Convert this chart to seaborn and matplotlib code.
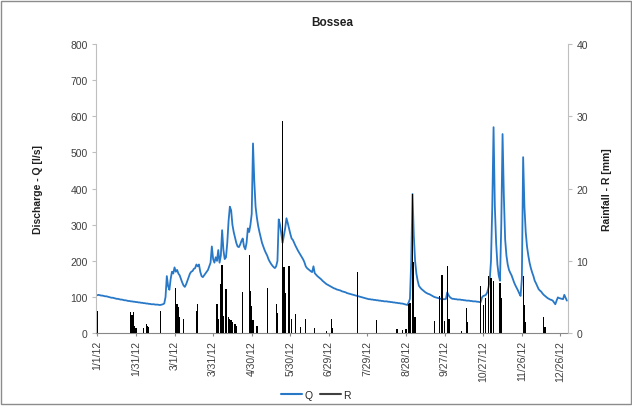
import numpy as np
import pandas as pd
import matplotlib
matplotlib.use("Agg")
import matplotlib.pyplot as plt
import seaborn as sns
from matplotlib.patches import Rectangle
from matplotlib.lines import Line2D

sns.set_style("white")
plt.rcParams['font.family'] = ['Liberation Sans', 'DejaVu Sans']

# ---- Discharge Q [l/s], daily values for 2012, by month ----
q_jan = [105, 106, 105, 104, 104, 103, 102, 102, 101, 100, 99, 98, 98, 97, 96, 95, 95, 94, 93, 93,
         92, 91, 91, 90, 89, 89, 88, 88, 87, 87, 86]
q_feb = [86, 85, 85, 84, 84, 83, 83, 82, 82, 81, 81, 80, 80, 80, 79, 79, 79, 78, 78, 79, 80,
         82, 100, 158, 130, 120, 150, 170, 165]
q_mar = [182, 170, 175, 165, 160, 150, 140, 132, 128, 135, 145, 155, 165, 170, 172, 178, 180, 190, 185, 190,
         170, 158, 155, 160, 165, 170, 175, 185, 195, 240, 205]
q_apr = [195, 210, 200, 230, 195, 215, 285, 230, 205, 210, 250, 310, 350, 340, 300, 280, 265, 250, 240, 238,
         245, 255, 262, 240, 232, 250, 290, 280, 300, 330]
q_may = [525, 420, 350, 320, 297, 280, 265, 250, 240, 230, 222, 215, 205, 198, 192, 187, 183, 180, 185, 200,
         315, 300, 275, 250, 270, 290, 318, 305, 290, 275, 262]
q_jun = [258, 250, 242, 235, 228, 222, 216, 210, 204, 196, 185, 180, 177, 174, 171, 169, 185, 166, 162, 158,
         155, 152, 149, 145, 142, 139, 136, 134, 132, 130]
q_jul = [128, 126, 124, 123, 121, 120, 119, 118, 116, 115, 114, 113, 111, 110, 109, 108, 107, 106, 105, 104,
         103, 102, 101, 100, 99, 98, 97, 96, 95, 94, 94]
q_aug = [93, 93, 92, 92, 91, 91, 90, 90, 89, 89, 88, 88, 88, 87, 87, 86, 86, 85, 85, 84,
         84, 83, 83, 82, 82, 81, 80, 79, 78, 85, 95]
q_sep = [200, 385, 270, 200, 165, 145, 131, 126, 122, 119, 116, 113, 111, 109, 108, 106, 104, 102, 100, 99,
         98, 97, 96, 95, 95, 94, 94, 95, 113, 105]
q_oct = [100, 97, 95, 95, 94, 94, 93, 93, 93, 92, 92, 91, 91, 90, 90, 90, 89, 89, 88, 88,
         88, 87, 87, 86, 86, 99, 103, 104, 106, 112, 125]
q_nov = [145, 200, 350, 570, 350, 250, 190, 160, 145, 300, 551, 380, 260, 215, 190, 175, 167, 160, 150, 140,
         132, 125, 118, 110, 103, 150, 487, 350, 280, 240]
q_dec = [215, 195, 180, 168, 158, 145, 138, 130, 122, 118, 115, 110, 106, 103, 100, 97, 95, 93, 92, 90,
         85, 80, 90, 99, 97, 96, 95, 94, 106, 98, 90]

# ---- Rainfall R [mm]: days (0 = 1 Jan 2012) with rain, and amounts ----
r_days = [0, 26, 27, 28, 29, 30, 36, 38, 39, 40, 49, 61, 62, 63, 64, 67, 77, 78, 93, 94,
          96, 97, 98, 100, 102, 103, 104, 105, 107, 108, 113, 118, 119, 120, 121, 124, 132, 139, 140, 144,
          145, 146, 149, 151, 154, 158, 162, 169, 178, 182, 183, 202, 217, 233, 237, 240, 242, 243, 245, 246,
          247, 262, 266, 268, 270, 272, 273, 274, 283, 287, 288, 298, 300, 302, 304, 306, 308, 313, 314, 331,
          332, 333, 347, 348]
r_vals = [3.1, 2.9, 2.5, 2.9, 1.0, 0.7, 0.7, 1.2, 1.0, 0.8, 3.0, 6.3, 4.1, 3.6, 2.3, 2.0, 3.0, 4.1, 4.0, 2.0,
          6.8, 9.5, 2.4, 6.1, 2.2, 2.0, 1.8, 1.5, 1.2, 1.0, 5.7, 10.8, 5.8, 3.8, 1.8, 1.0, 6.2, 4.1, 2.8, 29.4,
          9.2, 5.5, 9.3, 2.0, 2.7, 0.9, 2.0, 0.7, 0.3, 1.9, 0.7, 8.4, 1.8, 0.6, 0.4, 0.6, 4.0, 4.2, 19.2, 9.8,
          2.3, 1.7, 5.1, 8.1, 1.7, 9.3, 2.0, 2.0, 0.3, 3.5, 1.6, 6.5, 3.9, 4.8, 7.9, 7.6, 7.2, 6.9, 4.8, 7.9,
          3.9, 1.6, 2.2, 0.9]

tick_days = [0, 30, 60, 90, 120, 150, 180, 210, 240, 270, 300, 330, 360]
tick_labels = ["1/1/12", "1/31/12", "3/1/12", "3/31/12", "4/30/12", "5/30/12", "6/29/12",
               "7/29/12", "8/28/12", "9/27/12", "10/27/12", "11/26/12", "12/26/12"]

q = q_jan + q_feb + q_mar + q_apr + q_may + q_jun + q_jul + q_aug + q_sep + q_oct + q_nov + q_dec
days = np.arange(len(q))
rain = np.zeros(len(q))
rain[r_days] = r_vals
dfq = pd.DataFrame({"day": days, "Q": q})
dfr = pd.DataFrame({"day": days, "R": rain})

BLUE = "#2878C8"
GRAY_AX = "#BFBFBF"
TXT = "#404040"

fig = plt.figure(figsize=(6.32, 4.10), dpi=100)
fig.patches.append(Rectangle((0.002, 0.012), 0.996, 0.982, transform=fig.transFigure,
                             fill=False, edgecolor="#8C8C8C", linewidth=1.0))
ax = fig.add_axes([0.152, 0.185, 0.747, 0.705])

sns.lineplot(data=dfq, x="day", y="Q", ax=ax, color=BLUE, linewidth=1.3, legend=False)
ax.set_xlim(-1, 366)
ax.set_ylim(0, 800)
ax.set_yticks(range(0, 801, 100))

ax2 = ax.twinx()
sns.barplot(data=dfr, x="day", y="R", ax=ax2, color="black", native_scale=True,
            width=1.0, linewidth=0, saturation=1, errorbar=None)
ax2.set_ylim(0, 40)
ax2.set_yticks(range(0, 41, 10))
ax2.set_xlim(-1, 366)

ax.set_xticks(tick_days)
ax.set_xticklabels(tick_labels, rotation=90, fontsize=7.5, color=TXT)
ax2.set_xticks(tick_days)
ax2.set_xticklabels(tick_labels, rotation=90, fontsize=7.5, color=TXT)

for a in (ax, ax2):
    for s in a.spines.values():
        s.set_visible(False)
ax.spines["left"].set_visible(True)
ax.spines["left"].set_color(GRAY_AX)
ax.spines["bottom"].set_visible(True)
ax.spines["bottom"].set_color("#888888")
ax2.spines["right"].set_visible(True)
ax2.spines["right"].set_color(GRAY_AX)

ax.tick_params(axis="y", left=True, length=3, color=GRAY_AX, labelsize=7.5, labelcolor=TXT, pad=3)
ax.tick_params(axis="x", bottom=True, length=2, color="#888888", pad=3)
ax2.tick_params(axis="y", right=True, length=3, color=GRAY_AX, labelsize=7.5, labelcolor=TXT, pad=3)

ax.set_xlabel("")
ax2.set_xlabel("")
ax.set_ylabel("Discharge - Q [l/s]", fontsize=7.5, fontweight="bold", color="#202020", labelpad=20)
ax2.set_ylabel("Rainfall - R [mm]", fontsize=7.5, fontweight="bold", color="#202020", labelpad=10)
ax.set_title("Bossea", fontsize=8.5, fontweight="bold", color="#202020", pad=14)

handles = [Line2D([0], [0], color=BLUE, lw=1.5), Line2D([0], [0], color="#404040", lw=1.5)]
fig.legend(handles, ["Q", "R"], loc="center", bbox_to_anchor=(0.5, 0.035), ncol=2, frameon=False,
           fontsize=7.5, handlelength=2.0, handletextpad=0.2, columnspacing=0.8)

fig.savefig("out.png", dpi=100)
